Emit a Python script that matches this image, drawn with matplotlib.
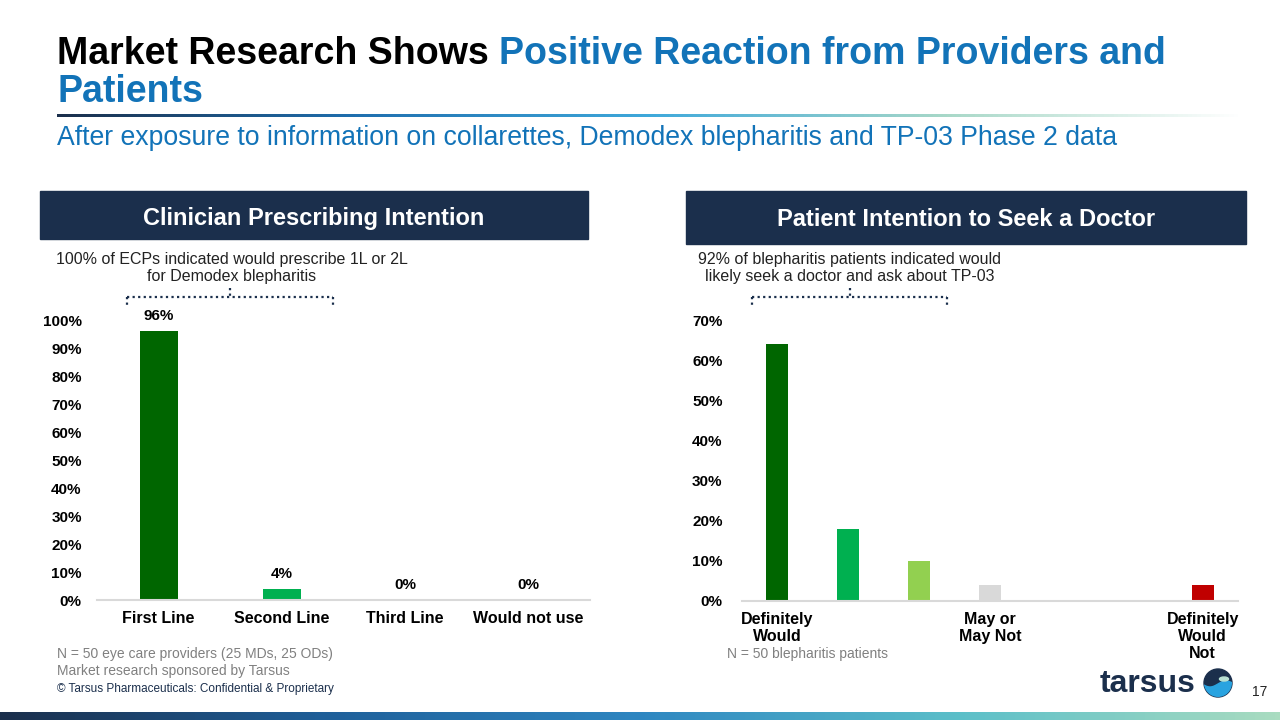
import numpy as np
import matplotlib
matplotlib.use("Agg")
import matplotlib.pyplot as plt
from matplotlib.colors import LinearSegmentedColormap
from matplotlib.patches import Rectangle, Circle, Polygon, Ellipse

plt.rcParams['font.family'] = ['Liberation Sans', 'DejaVu Sans']

# data
clin_cats = ['First Line', 'Second Line', 'Third Line', 'Would not use']
clin_vals = [96, 4, 0, 0]
clin_colors = ['#006600', '#00B050', '#00B050', '#00B050']

pat_cats = ['Definitely\nWould', '', '', 'May or\nMay Not', '', '', 'Definitely\nWould\nNot']
pat_vals = [64, 18, 10, 4, 0, 0, 4]
pat_colors = ['#006600', '#00B050', '#92D050', '#D9D9D9', '#D9D9D9', '#D9D9D9', '#C00000']

clin_ticks = list(range(0, 101, 10))
pat_ticks = list(range(0, 71, 10))

NAVY = '#1B2F4C'
BLUE = '#1273B8'
GRAY = '#808080'

W, H = 1280, 720
fig = plt.figure(figsize=(12.8, 7.2), dpi=100)

# overlay in pixel coordinates for slide decoration
ov = fig.add_axes([0, 0, 1, 1])
ov.set_xlim(0, W)
ov.set_ylim(H, 0)
ov.axis('off')


def px_axes(x0, y0, x1, y1):
    return fig.add_axes([x0 / W, 1 - y1 / H, (x1 - x0) / W, (y1 - y0) / H])


# title
t1 = ov.text(57, 72, 'Market Research Shows ', fontsize=27, fontweight='bold',
             color='black', va='bottom', ha='left')
ov.annotate('Positive Reaction from Providers and', xy=(1, 0), xycoords=t1,
            fontsize=27, fontweight='bold', color=BLUE, va='bottom', ha='left')
ov.text(57, 110, 'Patients', fontsize=27, fontweight='bold', color=BLUE,
        va='bottom', ha='left')

# gradient rule under title
rule_cmap = LinearSegmentedColormap.from_list(
    'rule', ['#1B2F4C', '#1F6FAF', '#3FA9DB', '#A8D8C8', '#FFFFFF'])
grad = np.linspace(0, 1, 256).reshape(1, -1)
ov.imshow(grad, cmap=rule_cmap, aspect='auto', extent=(57, 1245, 117, 114))

ov.text(57, 138, 'After exposure to information on collarettes, Demodex blepharitis and TP-03 Phase 2 data',
        fontsize=19.2, color=BLUE, va='center', ha='left')

# header boxes
ov.add_patch(Rectangle((40, 191), 548, 48, color=NAVY))
ov.text(314, 218, 'Clinician Prescribing Intention', fontsize=17, fontweight='bold',
        color='white', ha='center', va='center')
ov.add_patch(Rectangle((686, 191), 560, 53, color=NAVY))
ov.text(966, 220, 'Patient Intention to Seek a Doctor', fontsize=17, fontweight='bold',
        color='white', ha='center', va='center')

# notes above charts
ov.text(232, 268, '100% of ECPs indicated would prescribe 1L or 2L\nfor Demodex blepharitis',
        fontsize=11.5, color='#222222', ha='center', va='center', linespacing=1.2)
ov.text(850, 268, '92% of blepharitis patients indicated would\nlikely seek a doctor and ask about TP-03',
        fontsize=11.5, color='#222222', ha='center', va='center', linespacing=1.2)


def bracket(x0, x1, y):
    xc = (x0 + x1) / 2
    kw = dict(color=NAVY, linestyle=(0, (1, 1.5)), linewidth=1.6)
    ov.plot([x0, x1], [y, y], **kw)
    ov.plot([x0, x0], [y, y + 9], **kw)
    ov.plot([x1, x1], [y, y + 9], **kw)
    ov.plot([xc, xc], [y - 9, y], **kw)


bracket(127, 333, 297)
bracket(752, 947, 297)

# footnotes
ov.text(57, 654, 'N = 50 eye care providers (25 MDs, 25 ODs)', fontsize=10, color=GRAY,
        va='center', ha='left')
ov.text(57, 671, 'Market research sponsored by Tarsus', fontsize=10, color=GRAY,
        va='center', ha='left')
ov.text(57, 689, '\u00a9 Tarsus Pharmaceuticals: Confidential & Proprietary', fontsize=8.5,
        color=NAVY, va='center', ha='left')
ov.text(727, 654, 'N = 50 blepharitis patients', fontsize=10, color=GRAY,
        va='center', ha='left')

# logo
ov.text(1148, 684, 'tarsus', fontsize=23, fontweight='bold', color=NAVY,
        ha='center', va='center')
logo = Circle((1218, 683), 14, color=NAVY)
ov.add_patch(logo)
wx = np.linspace(1202, 1234, 40)
wave = np.column_stack([wx, 684 + 3 * np.sin((wx - 1202) / 32 * 2 * np.pi)])
wave = np.vstack([wave, [[1234, 700], [1202, 700]]])
wp = Polygon(wave, color='#29A3E0')
ov.add_patch(wp)
wp.set_clip_path(logo)
ov.add_patch(Ellipse((1224, 679), 9, 4, color='#B8E0D2'))
ov.text(1260, 692, '17', fontsize=10, color='#222222', ha='center', va='center')

# bottom bar
bar_cmap = LinearSegmentedColormap.from_list(
    'bar', ['#1B2F4C', '#1F5F99', '#2E86C1', '#5BBFC9', '#A9DCC0'])
ov.imshow(grad, cmap=bar_cmap, aspect='auto', extent=(0, W, 720, 712))
ov.set_xlim(0, W)
ov.set_ylim(H, 0)

# left chart
ax1 = px_axes(97, 320, 590, 600)
x1 = np.arange(len(clin_cats))
ax1.bar(x1, clin_vals, width=0.31, color=clin_colors)
for xi, v in zip(x1, clin_vals):
    ax1.annotate(f'{v}%', (xi, v), xytext=(0, 11), textcoords='offset points',
                 ha='center', va='center', fontsize=11, fontweight='bold')
ax1.set_xlim(-0.5, len(clin_cats) - 0.5)
ax1.set_ylim(0, 100)
ax1.set_yticks(clin_ticks)
ax1.set_yticklabels([f'{t}%' for t in clin_ticks])
ax1.set_xticks(x1)
ax1.set_xticklabels(clin_cats)

# right chart
ax2 = px_axes(742, 320, 1238, 601)
x2 = np.arange(len(pat_cats))
ax2.bar(x2, pat_vals, width=0.31, color=pat_colors)
ax2.set_xlim(-0.5, len(pat_cats) - 0.5)
ax2.set_ylim(0, 70)
ax2.set_yticks(pat_ticks)
ax2.set_yticklabels([f'{t}%' for t in pat_ticks])
ax2.set_xticks(x2)
ax2.set_xticklabels(pat_cats, linespacing=1.15)

for ax, ypad in ((ax1, 11), (ax2, 14)):
    ax.patch.set_alpha(0)
    for s in ('top', 'right', 'left'):
        ax.spines[s].set_visible(False)
    ax.spines['bottom'].set_color('#D9D9D9')
    ax.spines['bottom'].set_linewidth(1.5)
    ax.tick_params(axis='y', length=0, pad=ypad, labelsize=11)
    ax.tick_params(axis='x', length=0, pad=8, labelsize=11.5)
    for lab in ax.get_xticklabels() + ax.get_yticklabels():
        lab.set_fontweight('bold')

fig.savefig('out.png', dpi=100)
